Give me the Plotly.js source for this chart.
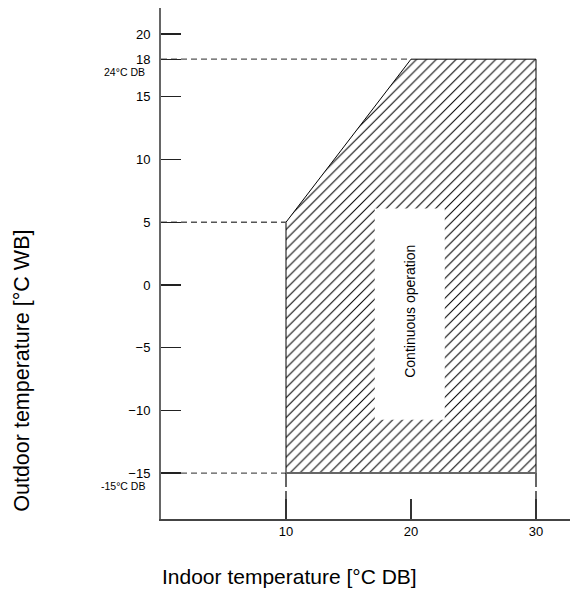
<!DOCTYPE html>
<html>
<head>
<meta charset="utf-8">
<script src="https://cdn.plot.ly/plotly-3.0.1.min.js"></script>
<style>html,body{margin:0;padding:0;background:#fff;}#chart{width:575px;height:591px;}</style>
</head>
<body>
<div id="chart"></div>
<script>
// Operating region (indoor °C DB vs outdoor °C WB)
const regionX = [10, 10, 20, 30, 30, 10];
const regionY = [-15, 5, 18, 18, -15, -15];
// "Continuous operation" label box
const boxX = [17.1, 22.7];
const boxY = [-10.75, 6.1];
// Guide lines
const guide18X = [0, 20], guide18Y = [18, 18];
const guide5X = [0, 10], guide5Y = [5, 5];
const guideM15X = [0, 10], guideM15Y = [-15, -15];
const vert10X = [10, 10], vert30X = [30, 30], vertY = [-15, -18.66];
const bottomX = [10, 30], bottomY = [-15, -15];
// Ticks
const yTicks = [-15, -10, -5, 0, 5, 10, 15, 18, 20];
const xTicks = [10, 20, 30];
const labelText = "Continuous operation";
const dbLabels = [{y: 18, text: "24°C DB"}, {y: -15, text: "-15°C DB"}];

const dash = {color: '#555', width: 1.3, dash: '6px,4px'};
const traces = [
  {x: regionX, y: regionY, mode: 'lines', fill: 'toself', fillcolor: 'rgba(255,255,255,0)',
   fillpattern: {shape: '/', size: 7, solidity: 0.15, fgcolor: '#000', bgcolor: '#fff'},
   line: {color: '#000', width: 1}, hoverinfo: 'skip'},
  {x: [boxX[0], boxX[1], boxX[1], boxX[0], boxX[0]], y: [boxY[0], boxY[0], boxY[1], boxY[1], boxY[0]],
   mode: 'lines', fill: 'toself', fillcolor: '#fff', line: {width: 0, color: '#fff'}, hoverinfo: 'skip'},
  {x: guide18X, y: guide18Y, mode: 'lines', line: dash},
  {x: guide5X, y: guide5Y, mode: 'lines', line: dash},
  {x: guideM15X, y: guideM15Y, mode: 'lines', line: dash},
  {x: vert10X, y: vertY, mode: 'lines', line: {color: '#000', width: 1.2, dash: '14px,4px'}},
  {x: vert30X, y: vertY, mode: 'lines', line: {color: '#000', width: 1.2, dash: '14px,4px'}},
  {x: bottomX, y: bottomY, mode: 'lines', line: {color: '#666', width: 2}}
];

const annotations = [
  {x: (boxX[0] + boxX[1]) / 2, y: -2.08, xref: 'x', yref: 'y', text: labelText, textangle: -90,
   xanchor: 'center', yanchor: 'middle', showarrow: false, font: {size: 14, color: '#000'}},
  {x: -0.34, y: 0.29, xref: 'paper', yref: 'paper', text: 'Outdoor temperature [°C WB]', textangle: -90,
   xanchor: 'center', yanchor: 'middle', showarrow: false, font: {size: 21.5, color: '#000'}},
  {x: 0.315, y: -0.113, xref: 'paper', yref: 'paper', text: 'Indoor temperature [°C DB]',
   xanchor: 'center', yanchor: 'middle', showarrow: false, font: {size: 21, color: '#000'}}
];
dbLabels.forEach(d => annotations.push({
  x: -0.035, y: d.y, xref: 'paper', yref: 'y', text: d.text, xanchor: 'right', yanchor: 'middle',
  yshift: -13, showarrow: false, font: {size: 10.5, color: '#000'}
}));

const layout = {
  width: 575, height: 591,
  margin: {l: 161, r: 5, t: 8, b: 72},
  paper_bgcolor: '#fff', plot_bgcolor: '#fff',
  showlegend: false,
  font: {family: 'Liberation Sans, Arial, sans-serif', color: '#000', size: 13},
  xaxis: {range: [0, 32.72], tickvals: xTicks, ticktext: xTicks.map(String), ticks: 'inside', ticklen: 20,
          tickcolor: '#333', tickwidth: 1.2, showline: true, linecolor: '#444', linewidth: 1.5,
          showgrid: false, zeroline: false, tickfont: {size: 13}},
  yaxis: {range: [-18.66, 22.08], tickvals: yTicks, ticks: 'inside', ticklen: 20,
          tickcolor: '#222', tickwidth: 1.2, showline: true, linecolor: '#666', linewidth: 2,
          showgrid: false, zeroline: false, tickfont: {size: 13}, ticklabelstandoff: 6},
  annotations: annotations
};
Plotly.newPlot('chart', traces, layout, {displayModeBar: false, staticPlot: true});
</script>
</body>
</html>
